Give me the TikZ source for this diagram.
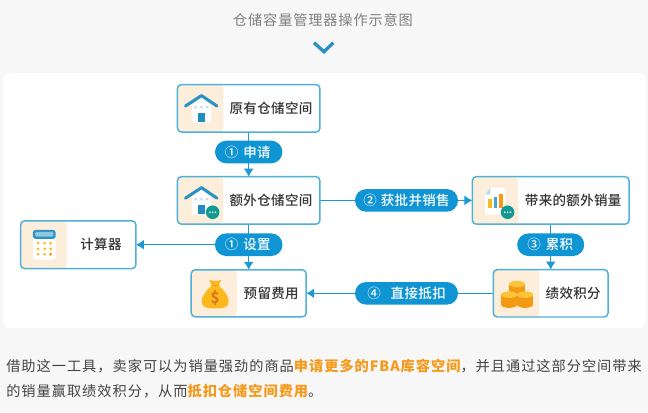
\documentclass[tikz,border=0pt]{standalone}
\usepackage{fontspec}
\setmainfont{Noto Sans CJK SC}
\newfontfamily\medfont[LetterSpace=2.5]{Noto Sans CJK SC Medium}
\usetikzlibrary{arrows.meta,backgrounds}
\definecolor{pagebg}{HTML}{F7F7F7}
\definecolor{border}{HTML}{4FB0D9}
\definecolor{pillblue}{HTML}{0F95D3}
\definecolor{linkblue}{HTML}{1E9AD3}
\definecolor{beige}{HTML}{FDEEDC}
\definecolor{ink}{HTML}{333333}
\definecolor{bodyink}{HTML}{444444}
\definecolor{titleink}{HTML}{808080}
\definecolor{hilite}{HTML}{F59A1B}
\definecolor{roofblue}{HTML}{2A93C4}
\definecolor{doorblue}{HTML}{1F8CC4}
\definecolor{winblue}{HTML}{BBDDEE}
\definecolor{teal}{HTML}{109A92}
\definecolor{gold}{HTML}{FBB91F}
\definecolor{goldtop}{HTML}{FCC43A}
\definecolor{deeporange}{HTML}{F49A12}
\definecolor{dollar}{HTML}{D9791A}
\newcommand{\pxk}[1]{\kern #1\dimexpr 0.75pt\relax}
\newcommand{\fs}[1]{\fontsize{#1\dimexpr 0.75pt\relax}{#1\dimexpr 0.9pt\relax}\selectfont}
\tikzset{
  x=0.75pt, y=-0.75pt,
  box/.style 2 args={draw=border, line width=1.1pt, fill=white, rounded corners=3pt,
    minimum width=#1*0.75pt, minimum height=#2*0.75pt, inner sep=0pt, outer sep=0pt,
    text=ink, font=\medfont\fs{13.5},
    path picture={\fill[beige] (path picture bounding box.north west) rectangle
      ([xshift=34.5pt]path picture bounding box.south west);}},
  pill/.style={fill=pillblue, rounded corners=8.4pt, minimum width=#1*0.75pt,
    minimum height=22.6*0.75pt, inner sep=0pt, outer sep=0pt, text=white, font=\medfont\fs{13.5}},
  conn/.style={draw=linkblue, line width=0.95pt},
  arrow/.style={conn, -{Latex[length=6pt,width=7.5pt]}},
  bodytext/.style={anchor=west, inner sep=0pt, text=bodyink, font=\fs{14.2}\addfontfeature{LetterSpace=7}},
  houseicon/.pic={
    \fill[white] (14.5,21) -- (24,12) -- (33.5,21) -- (33.5,38) -- (14.5,38) -- cycle;
    \draw[roofblue, line width=2.3pt, line cap=round, line join=round] (8,21.5) -- (24,11) -- (39.5,21.5);
    \foreach \wx in {18,24,29.7} \fill[winblue] (\wx,22.5) circle[radius=1.5];
    \fill[doorblue] (20.7,28.5) rectangle (27.3,37);
  },
  badgeicon/.pic={
    \fill[teal] (35.2,35.6) circle[radius=6.8];
    \foreach \bx in {32.4,35.2,38} \fill[white] (\bx,35.6) circle[radius=0.9];
  },
  charticon/.pic={
    \fill[white] (18,11) -- (32.7,11) -- (32.7,38) -- (12.7,38) -- (12.7,18) -- cycle;
    \fill[winblue] (18,11) -- (18,18) -- (12.7,18) -- cycle;
    \fill[gold] (16,22) rectangle (19.4,31.5);
    \fill[doorblue!80] (21.7,20) rectangle (25,31.5);
    \fill[deeporange] (26.7,17) rectangle (30.7,31.5);
  },
  calcicon/.pic={
    \fill[white, rounded corners=2pt] (12.3,9) rectangle (35,38.7);
    \fill[roofblue, rounded corners=2pt] (12.3,9) rectangle (35,18);
    \fill[winblue!70!roofblue, rounded corners=1pt] (14.5,11) rectangle (32.8,15.8);
    \foreach \cy in {22.3,28,33.3} \foreach \cx in {17.3,24,30} \fill[gold] (\cx,\cy) circle[radius=1.5];
    \fill[deeporange] (30,33.3) circle[radius=1.5];
  },
  bagicon/.pic={
    \fill[gold] (18,10) .. controls (21,11.5) and (27,11.5) .. (30,10) -- (27.5,16)
      .. controls (33,20) and (38,27) .. (37.5,32) .. controls (37,37) and (33,38.5) .. (28,38.5)
      -- (20,38.5) .. controls (15,38.5) and (11,37) .. (10.5,32) .. controls (10,27) and (15,20) .. (20.5,16) -- cycle;
    \draw[deeporange, line width=0.8pt] (20.5,16) -- (27.5,16);
    \node[text=dollar, font=\bfseries\fs{15}, inner sep=0pt] (dollarsign) at (24,28) {\$};
  },
  coinicon/.pic={
    \foreach \kx/\ktop/\kbot in {23.7/14.5/24.5, 15.7/25/35, 31.7/25/35} {
      \fill[deeporange] (\kx-8,\ktop) rectangle (\kx+8,\kbot);
      \fill[deeporange] (\kx,\kbot) circle[x radius=8, y radius=3.3];
      \fill[goldtop] (\kx,\ktop) circle[x radius=8, y radius=3.3];
    };
  }
}
\begin{document}
\begin{tikzpicture}
\useasboundingbox (0,0) rectangle (648,412);
% boxes
\node[box={142.5}{47.5}] (orig) at (248.7,108.3) {\pxk{44.6}原有仓储空间};
\node[box={142.5}{47.5}] (extra) at (248.7,200.4) {\pxk{44.6}额外仓储空间};
\node[box={156.7}{47.5}] (sales) at (550.7,200.4) {\pxk{45}带来的额外销量};
\node[box={115.3}{47.7}] (calc) at (78.3,244.7) {\pxk{45.4}计算器};
\node[box={115}{47}] (reserve) at (248.7,293.3) {\pxk{45}预留费用};
\node[box={114.7}{47.4}] (points) at (550.7,293.3) {\pxk{45}绩效积分};
% pills
\node[pill=67.3] (apply) at (248.7,152) {①\pxk{5}申请\pxk{2}};
\node[pill=67.5] (setup) at (248.7,244.7) {①\pxk{5}设置\pxk{2}};
\node[pill=103] (approve) at (406.5,200.4) {②\pxk{4}获批并销售};
\node[pill=67] (accum) at (550.7,244.7) {③\pxk{5}累积\pxk{1}};
\node[pill=103] (deduct) at (406.5,293.3) {④\pxk{10}直接抵扣};
% icons
\pic at (orig.north west) {houseicon};
\pic at (extra.north west) {houseicon};
\pic at (extra.north west) {badgeicon};
\pic at (sales.north west) {charticon};
\pic at (sales.north west) {badgeicon};
\pic at (calc.north west) {calcicon};
\pic at (reserve.north west) {bagicon};
\pic at (points.north west) {coinicon};
% title and text
\node[text=titleink, font=\fs{14.2}\addfontfeature{LetterSpace=6}, inner sep=0pt] (title) at (323,20) {仓储容量管理器操作示意图};
\coordinate (chevL) at (314,42.7);
\coordinate (chevM) at (324,51.7);
\coordinate (chevR) at (333.3,42.7);
\draw[roofblue, line width=2.5pt] (chevL) -- (chevM) -- (chevR);
\node[bodytext] (line1) at (6,365.7) {借助这一工具，卖家可以为销量强劲的商品\textcolor{hilite}{\bfseries 申请更多的FBA库容空间}，并且通过这部分空间带来};
\node[bodytext] (line2) at (6,390.7) {的销量赢取绩效积分，从而\textcolor{hilite}{\bfseries 抵扣仓储空间费用}。};
% panel and connectors beneath everything
\begin{scope}[on background layer]
  \fill[pagebg] (0,0) rectangle (648,412);
  \fill[white, rounded corners=6pt] (3,73) rectangle (646,328);
  \draw[arrow] (orig) -- (extra);
  \draw[arrow] (extra) -- (reserve);
  \draw[arrow] (setup) -- (calc);
  \draw[arrow] (extra) -- (sales);
  \draw[arrow] (sales) -- (points);
  \draw[arrow] (points) -- (reserve);
\end{scope}
\end{tikzpicture}
\end{document}
